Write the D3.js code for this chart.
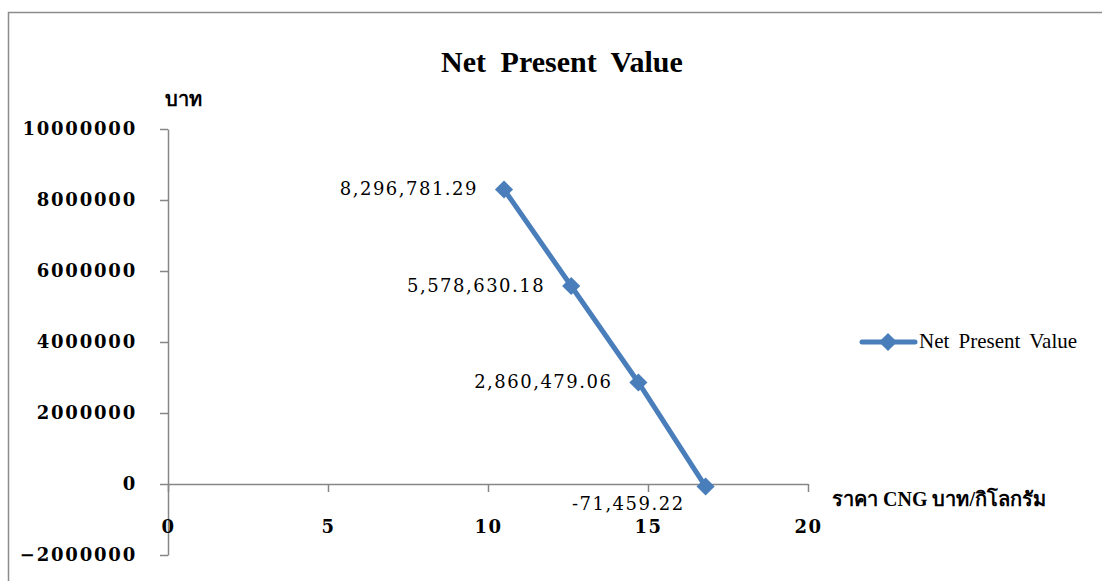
<!DOCTYPE html>
<html>
<head>
<meta charset="utf-8">
<script src="https://cdn.jsdelivr.net/npm/d3@7"></script>
<style>
  html, body { margin: 0; padding: 0; background: #fff; }
  svg { display: block; }
</style>
</head>
<body>
<svg id="chart" width="1102" height="581"></svg>
<script>
// CNG price (baht per kilogram) and the resulting net present value (baht)
const prices = [10.5, 12.6, 14.7, 16.8];
const npvValues = [8296781.29, 5578630.18, 2860479.06, -71459.22];
const npvLabels = ["8,296,781.29", "5,578,630.18", "2,860,479.06", "-71,459.22"];
const xTicks = [0, 5, 10, 15, 20];
const yTicks = [-2000000, 0, 2000000, 4000000, 6000000, 8000000, 10000000];
const seriesName = "Net Present Value";
const chartTitle = "Net Present Value";
const yUnit = "บาท";
const xTitle = "ราคา CNG บาท/กิโลกรัม";

const svg = d3.select("#chart");
const axisColor = "#868686";
const lineColor = "#4a7ebb";
const tickFont = "'DejaVu Serif', serif";
const latinSerif = "'Liberation Serif', 'Times New Roman', serif";

// outer chart frame
svg.append("rect")
  .attr("x", 8.5).attr("y", 12.5)
  .attr("width", 1200).attr("height", 700)
  .attr("fill", "none").attr("stroke", "#8c8c8c").attr("stroke-width", 1.5);

const x = d3.scaleLinear().domain([0, 20]).range([168, 808]);
const y = d3.scaleLinear().domain([-2000000, 10000000]).range([555, 129]);

// y axis
const yAxis = svg.append("g")
  .attr("transform", `translate(${x(0)},0)`)
  .call(d3.axisLeft(y).tickValues(yTicks).tickSize(8).tickSizeOuter(0).tickPadding(23)
    .tickFormat(d3.format("d")));
yAxis.select(".domain").attr("stroke", axisColor).attr("stroke-width", 1.5);
yAxis.selectAll(".tick line").attr("stroke", axisColor).attr("stroke-width", 1.5);
yAxis.selectAll(".tick text")
  .attr("font-family", tickFont).attr("font-weight", "bold")
  .attr("font-size", 18).attr("letter-spacing", "1.8px").attr("fill", "#000");

// x axis crossing at zero
const xAxis = svg.append("g")
  .attr("transform", `translate(0,${y(0)})`)
  .call(d3.axisBottom(x).tickValues(xTicks).tickSize(8).tickSizeOuter(0).tickPadding(28)
    .tickFormat(d3.format("d")));
xAxis.select(".domain").attr("stroke", axisColor).attr("stroke-width", 1.5);
xAxis.selectAll(".tick line").attr("stroke", axisColor).attr("stroke-width", 1.5);
xAxis.selectAll(".tick text")
  .attr("font-family", tickFont).attr("font-weight", "bold")
  .attr("font-size", 18).attr("letter-spacing", "1.6px").attr("fill", "#000");

// title
svg.append("text")
  .attr("x", 562).attr("y", 72)
  .attr("text-anchor", "middle")
  .attr("font-family", latinSerif).attr("font-weight", "bold").attr("font-size", 30)
  .attr("word-spacing", "7px")
  .text(chartTitle);

// unit label above y axis
svg.append("text")
  .attr("x", 165).attr("y", 106)
  .attr("font-family", latinSerif).attr("font-weight", "bold").attr("font-size", 20)
  .text(yUnit);

// x axis title
svg.append("text")
  .attr("x", 832).attr("y", 506)
  .attr("font-family", latinSerif).attr("font-weight", "bold").attr("font-size", 20)
  .text(xTitle);

// series line
const data = prices.map((p, i) => ({ x: p, y: npvValues[i], label: npvLabels[i] }));
const line = d3.line().x(d => x(d.x)).y(d => y(d.y));
svg.append("path")
  .datum(data)
  .attr("d", line)
  .attr("fill", "none").attr("stroke", lineColor).attr("stroke-width", 5)
  .attr("stroke-linejoin", "round");

const diamond = d3.symbol().type(d3.symbolDiamond2).size(210);
svg.selectAll(".marker")
  .data(data).enter().append("path")
  .attr("class", "marker")
  .attr("transform", d => `translate(${x(d.x)},${y(d.y)})`)
  .attr("d", diamond)
  .attr("fill", lineColor);

// value labels left of each point
svg.selectAll(".value-label")
  .data(data).enter().append("text")
  .attr("class", "value-label")
  .attr("x", (d, i) => i === data.length - 1 ? x(d.x) - 21 : x(d.x) - 26)
  .attr("y", (d, i) => i === data.length - 1 ? y(d.y) + 23 : y(d.y) + 6)
  .attr("text-anchor", "end")
  .attr("font-family", tickFont).attr("font-size", 18).attr("letter-spacing", "1.5px")
  .attr("fill", "#000")
  .text(d => d.label);

// legend
const lg = svg.append("g").attr("transform", "translate(860,342)");
lg.append("line").attr("x1", 2).attr("x2", 55).attr("y1", 0).attr("y2", 0)
  .attr("stroke", lineColor).attr("stroke-width", 5).attr("stroke-linecap", "round");
lg.append("path").attr("transform", "translate(28,0)").attr("d", diamond).attr("fill", lineColor);
lg.append("text").attr("x", 59).attr("y", 6)
  .attr("font-family", latinSerif).attr("font-size", 21).attr("word-spacing", "4px").attr("fill", "#000")
  .text(seriesName);
</script>
</body>
</html>
